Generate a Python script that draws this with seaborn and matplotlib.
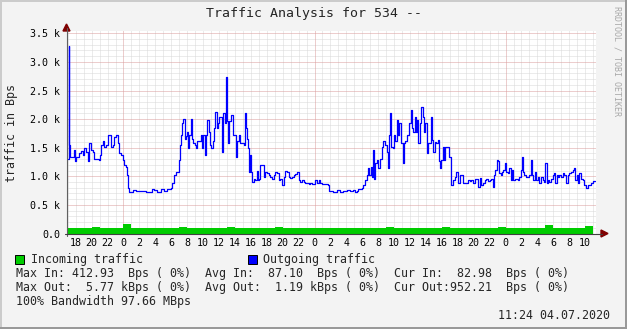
import numpy as np
import matplotlib
matplotlib.use("Agg")
import matplotlib.pyplot as plt
import seaborn as sns
from matplotlib.patches import Rectangle, Polygon
from matplotlib.lines import Line2D

# ---------------- data (hours counted from midnight of day 1, values in kBps)
out_hours = [
    17.03, 17.1, 17.2, 17.3, 17.75, 17.9, 18.0, 18.45, 18.66, 18.87,
    19.08, 19.29, 19.5, 19.71, 19.92, 20.13, 20.34, 20.88, 21.05, 21.21,
    21.38, 21.59, 21.8, 22.01, 22.22, 22.43, 22.64, 22.85, 23.06, 23.27,
    23.48, 23.69, 23.9, 24.1, 24.31, 24.48, 24.61, 24.73, 25.15, 25.57,
    25.99, 26.41, 26.83, 27.25, 27.58,
    27.83, 28.25, 28.67, 29.09, 29.51, 29.93, 30.14, 30.34, 30.55, 30.76,
    30.97, 31.1, 31.18, 31.35, 31.52, 31.69, 31.85, 32.02, 32.14, 32.27,
    32.44, 32.61, 32.77, 32.94, 33.11, 33.28, 33.49, 33.69, 33.86, 34.03,
    34.2, 34.37, 34.53, 34.7, 34.87, 35.03, 35.2, 35.37, 35.5, 35.7,
    35.87, 36.04, 36.21, 36.37, 36.54, 36.71, 36.84, 36.96, 37.13, 37.3,
    37.46, 37.63, 37.8, 37.97, 38.13, 38.3, 38.47, 38.64, 38.8,
    38.89, 39.1, 39.31, 39.43, 39.56, 39.68, 39.77, 39.89, 40.02, 40.14,
    40.35, 40.56, 40.77, 40.9, 41.06, 41.19, 41.4, 41.61, 41.82, 42.03,
    42.24, 42.45, 42.66, 42.87, 43.07, 43.28, 43.49, 43.7, 43.91, 44.12,
    44.33, 44.54, 44.75, 44.96, 45.17, 45.38, 45.59, 45.8, 46.01, 46.22,
    46.42, 46.63, 46.84, 47.05, 47.26, 47.47, 47.68, 47.89, 48.1, 48.31,
    48.52, 48.73, 48.94, 49.36, 49.69, 49.86, 50.11,
    50.36, 50.78, 51.2, 51.62, 52.04, 52.45, 52.87, 53.08, 53.29, 53.5,
    53.71, 53.92, 54.13, 54.34, 54.55, 54.76, 54.88, 55.05, 55.18, 55.3,
    55.43, 55.6, 55.81, 56.01, 56.22, 56.43, 56.64, 56.85, 57.06, 57.27,
    57.4, 57.48, 57.65, 57.81, 57.98, 58.15, 58.32, 58.48, 58.65, 58.82,
    59.07, 59.24, 59.41, 59.57, 59.74, 59.91, 60.08, 60.24, 60.41, 60.58,
    60.75, 60.91,
    61.0, 61.21, 61.42, 61.59, 61.75, 61.92, 62.09, 62.25, 62.42, 62.59,
    62.76, 62.88, 63.09, 63.3, 63.51, 63.64, 63.8, 63.93, 64.1, 64.26,
    64.43, 64.6, 64.77, 64.89, 65.02, 65.1, 65.19, 65.4, 65.6, 65.81,
    66.02, 66.23, 66.44, 66.65, 66.86, 67.07, 67.28, 67.49, 67.7, 67.91,
    68.12, 68.33, 68.54, 68.75, 68.95, 69.16, 69.37, 69.58, 69.79, 70.0,
    70.21, 70.42, 70.55, 70.71, 70.88, 71.05, 71.22, 71.38, 71.55, 71.72,
    71.89,
    72.05, 72.26, 72.47, 72.64, 72.81, 72.98, 73.14, 73.31, 73.52, 73.73,
    73.94, 74.02, 74.15, 74.36, 74.57, 74.78, 74.99, 75.2, 75.32, 75.49,
    75.65, 75.82, 76.03, 76.24, 76.45, 76.66, 76.87, 76.99, 77.16, 77.33,
    77.5, 77.71, 77.92, 78.13, 78.25, 78.42, 78.55, 78.76, 78.96, 79.17,
    79.38, 79.59, 79.8, 80.01, 80.22, 80.43, 80.64, 80.76, 80.93, 81.1,
    81.27, 81.48, 81.69, 81.89, 82.1, 82.31, 82.52, 82.73, 82.94, 83.15,
    83.24,
]
out_kbps = [
    1.31, 3.27, 1.55, 1.34, 1.46, 1.26, 1.34, 1.40, 1.44, 1.37,
    1.49, 1.43, 1.26, 1.58, 1.46, 1.43, 1.31, 1.28, 1.37, 1.55,
    1.62, 1.52, 1.55, 1.72, 1.72, 1.52, 1.55, 1.69, 1.72, 1.58,
    1.40, 1.37, 1.28, 1.20, 1.17, 1.02, 0.79, 0.73, 0.76, 0.74,
    0.74, 0.75, 0.73, 0.73, 0.78,
    0.76, 0.73, 0.77, 0.75, 0.78, 0.79, 0.88, 1.02, 1.07, 1.08,
    1.28, 1.55, 1.72, 1.93, 2.00, 1.66, 1.71, 1.78, 1.49, 1.72,
    2.00, 1.66, 1.58, 1.55, 1.49, 1.62, 1.61, 1.72, 1.50, 1.72,
    1.38, 1.72, 1.98, 1.78, 1.55, 1.49, 1.61, 1.84, 2.13, 1.84,
    1.93, 2.04, 2.04, 1.43, 2.10, 1.93, 2.73, 1.96, 1.58, 1.96,
    2.08, 2.07, 1.72, 1.72, 1.34, 1.61, 1.73, 1.58, 1.58,
    1.58, 1.55, 2.10, 1.84, 1.66, 1.49, 1.08, 1.37, 1.08, 0.90,
    0.96, 0.93, 1.09, 0.93, 0.96, 1.20, 1.20, 0.99, 1.08, 1.05,
    1.02, 0.99, 0.96, 1.02, 1.07, 1.05, 0.93, 0.95, 0.85, 0.99,
    1.09, 1.08, 0.99, 0.97, 0.99, 1.02, 1.04, 1.07, 0.93, 0.90,
    0.93, 0.90, 0.88, 0.89, 0.86, 0.88, 0.86, 0.86, 0.93, 0.88,
    0.93, 0.88, 0.86, 0.86, 0.85, 0.74, 0.74,
    0.73, 0.76, 0.72, 0.74, 0.76, 0.75, 0.76, 0.73, 0.75, 0.77,
    0.77, 0.80, 0.85, 0.93, 1.02, 1.14, 1.02, 1.17, 0.99, 1.46,
    0.96, 1.23, 1.28, 1.14, 1.31, 1.52, 1.61, 1.55, 1.43, 1.14,
    1.72, 2.11, 1.52, 1.49, 1.72, 1.61, 1.98, 1.72, 1.93, 1.58,
    1.23, 1.58, 1.61, 1.72, 1.72, 1.93, 2.16, 1.84, 1.78, 2.04,
    1.78, 1.98,
    1.58, 1.93, 2.22, 2.04, 1.78, 1.93, 1.40, 1.58, 1.58, 2.04,
    1.63, 1.43, 1.60, 1.58, 1.63, 1.26, 1.14, 1.28, 1.52, 1.28,
    1.52, 1.52, 1.52, 1.34, 1.34, 1.02, 0.85, 0.93, 0.99, 1.08,
    0.89, 1.02, 1.02, 0.89, 0.88, 0.88, 0.93, 0.91, 0.93, 0.89,
    0.96, 0.96, 0.82, 0.97, 0.85, 0.89, 0.93, 0.95, 0.92, 0.93,
    0.96, 0.82, 1.02, 1.11, 1.28, 1.26, 1.05, 1.02, 1.08, 1.11,
    1.23,
    1.08, 1.05, 1.14, 0.93, 1.11, 0.93, 0.96, 0.96, 0.93, 0.99,
    1.11, 1.34, 1.08, 1.02, 0.99, 0.99, 1.03, 1.28, 1.02, 0.93,
    1.08, 0.93, 0.99, 0.88, 0.99, 0.93, 0.90, 1.23, 0.88, 0.93,
    0.90, 0.96, 1.02, 1.05, 0.88, 1.02, 0.99, 1.02, 0.99, 1.05,
    1.02, 0.88, 1.02, 1.05, 1.08, 1.11, 1.14, 0.93, 1.02, 0.88,
    1.05, 0.96, 0.93, 0.85, 0.80, 0.85, 0.84, 0.88, 0.92, 0.92,
    0.92,
]
in_hours = list(range(17, 84))
in_kbps = [
    0.09, 0.10, 0.09, 0.11, 0.09, 0.10, 0.09, 0.16, 0.10, 0.09,
    0.09, 0.10, 0.09, 0.10, 0.12, 0.10, 0.09, 0.10, 0.09, 0.10,
    0.11, 0.09, 0.10, 0.09, 0.10, 0.09, 0.11, 0.10, 0.09, 0.10,
    0.09, 0.10, 0.10, 0.09, 0.10, 0.09, 0.10, 0.09, 0.10, 0.09,
    0.11, 0.09, 0.10, 0.09, 0.10, 0.09, 0.10, 0.11, 0.10, 0.09,
    0.10, 0.09, 0.10, 0.09, 0.11, 0.10, 0.09, 0.10, 0.09, 0.10,
    0.14, 0.09, 0.10, 0.09, 0.10, 0.13, 0.09,
]
x_tick_hours = list(range(18, 83, 2))
x_tick_labels = [str(h % 24) for h in x_tick_hours]
y_ticks = [0.0, 0.5, 1.0, 1.5, 2.0, 2.5, 3.0, 3.5]
y_tick_labels = ["0.0", "0.5 k", "1.0 k", "1.5 k", "2.0 k", "2.5 k", "3.0 k", "3.5 k"]

title = "Traffic Analysis for 534 --"
y_label = "traffic in Bps"
legend_in = "Incoming traffic"
legend_out = "Outgoing traffic"
stat_lines = [
    "Max In: 412.93  Bps ( 0%)  Avg In:  87.10  Bps ( 0%)  Cur In:  82.98  Bps ( 0%)",
    "Max Out:  5.77 kBps ( 0%)  Avg Out:  1.19 kBps ( 0%)  Cur Out:952.21  Bps ( 0%)",
    "100% Bandwidth 97.66 MBps",
]
stamp = "11:24 04.07.2020"
watermark = "RRDTOOL / TOBI OETIKER"

assert len(out_hours) == len(out_kbps)
assert len(in_hours) == len(in_kbps)

# ---------------- style
sns.set_theme(style="white")
plt.rcParams["font.family"] = ["DejaVu Sans Mono"]

W, H = 627, 329
fig = plt.figure(figsize=(W / 100, H / 100), dpi=100, facecolor="#F3F3F3")


def fx(px):
    return px / W


def fy(py):
    return 1 - py / H


X0, X1 = 66.5, 596.0
Y0, Y1 = 233.5, 31.3
ax = fig.add_axes([fx(X0), fy(Y0), (X1 - X0) / W, (Y0 - Y1) / H])
ax.set_facecolor("white")
ax.set_xlim(16.84, 83.36)
ax.set_ylim(0, 3.535)

# grid
dot = (0, (1, 1))
for h in range(17, 84):
    major = h % 24 == 0
    ax.axvline(h, color="#DB9C9C" if major else "#D9D9D9", lw=0.72,
               ls=dot, zorder=1 if major else 0.5)
for i in range(1, 36):
    v = i / 10
    major = i % 5 == 0
    ax.axhline(v, color="#DB9C9C" if major else "#D9D9D9", lw=0.72,
               ls=dot, zorder=1 if major else 0.5)

# incoming area
ax.fill_between(in_hours, in_kbps, step="post", color="#00CC00", lw=0, zorder=2)
# outgoing line
sns.lineplot(x=out_hours, y=out_kbps, drawstyle="steps-post", color="#0000FF",
             linewidth=0.9, ax=ax, zorder=3, estimator=None, sort=False)

ax.set_xticks(x_tick_hours)
ax.set_xticklabels(x_tick_labels)
ax.set_yticks(y_ticks)
ax.set_yticklabels(y_tick_labels)
ax.tick_params(axis="x", length=0, pad=3.0, labelsize=7.2, colors="black")
ax.tick_params(axis="y", length=0, pad=4.6, labelsize=7.2, colors="black")
for s in ax.spines.values():
    s.set_visible(False)
ax.set_xlabel("")
ax.set_ylabel("")

# axes lines with arrows (figure pixel coordinates)
fig.add_artist(Line2D([fx(X0), fx(X0)], [fy(Y0 + 2), fy(28)], color="#606060", lw=0.8))
fig.add_artist(Line2D([fx(X0 - 2), fx(602)], [fy(Y0), fy(Y0)], color="#404040", lw=0.8))
fig.add_artist(Polygon([[fx(X0 - 3.5), fy(31)], [fx(X0 + 3.5), fy(31)], [fx(X0), fy(24)]],
                       closed=True, color="#7F0000", transform=fig.transFigure))
fig.add_artist(Polygon([[fx(601), fy(Y0 - 3.5)], [fx(601), fy(Y0 + 3.5)], [fx(608), fy(Y0)]],
                       closed=True, color="#7F0000", transform=fig.transFigure))

# texts
fig.text(fx(313.5), fy(13.5), title, ha="center", va="center", fontsize=9.5)
fig.text(fx(12), fy(133), y_label, rotation=90, ha="center", va="center", fontsize=8.4)
fig.text(fx(617), fy(6), watermark, rotation=270, ha="center", va="top",
         fontsize=6.0, color="#A8A8A8")

# legend
fig.add_artist(Rectangle((fx(15), fy(264)), 9 / W, 9 / H, transform=fig.transFigure,
                         facecolor="#00CC00", edgecolor="black", lw=0.7))
fig.text(fx(31), fy(259.5), legend_in, ha="left", va="center", fontsize=8.4)
fig.add_artist(Rectangle((fx(248), fy(264)), 9 / W, 9 / H, transform=fig.transFigure,
                         facecolor="#0000FF", edgecolor="black", lw=0.7))
fig.text(fx(263), fy(259.5), legend_out, ha="left", va="center", fontsize=8.4)
for i, line in enumerate(stat_lines):
    fig.text(fx(16), fy(273.5 + 14 * i), line, ha="left", va="center", fontsize=8.4)
fig.text(fx(610), fy(315.5), stamp, ha="right", va="center", fontsize=8.4)

# frame (3D bevel)
fig.add_artist(Rectangle((0, fy(2)), 1, 2 / H, transform=fig.transFigure,
                         facecolor="#CBCBCB", lw=0))
fig.add_artist(Rectangle((0, 0), 2 / W, 1, transform=fig.transFigure,
                         facecolor="#CBCBCB", lw=0))
fig.add_artist(Rectangle((0, 0), 1, 2.5 / H, transform=fig.transFigure,
                         facecolor="#999999", lw=0))
fig.add_artist(Rectangle((fx(624.5), 0), 2.5 / W, 1, transform=fig.transFigure,
                         facecolor="#999999", lw=0))

fig.savefig("out.png", dpi=100, facecolor=fig.get_facecolor())
